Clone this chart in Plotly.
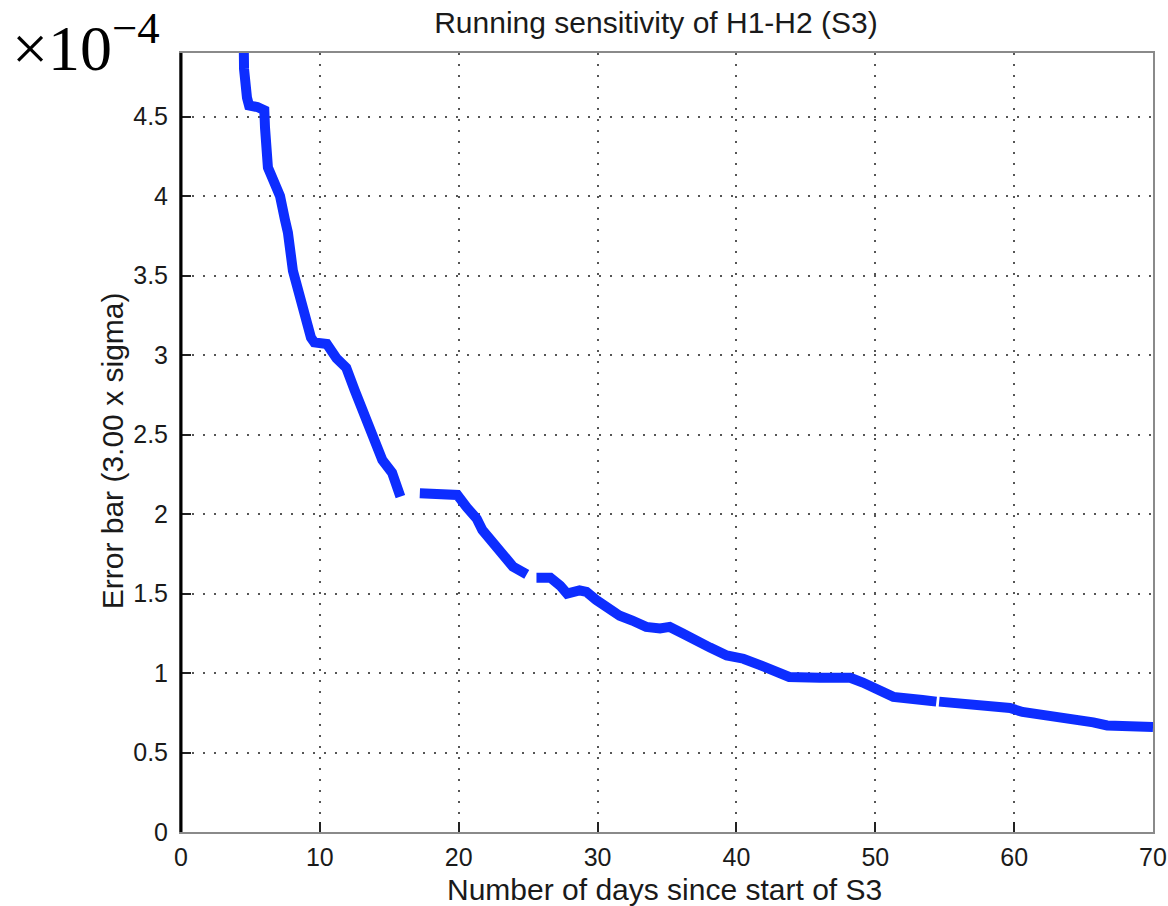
import plotly.graph_objects as go

# Running error bar (3 x sigma) vs. days since start of S3; None marks breaks in the record
days = [
    4.50, 4.54, 4.75, 4.90, 5.50, 6.00, 6.05, 6.26, 6.55, 7.13, 7.49, 7.70, 8.06,
    8.35, 8.70, 9.00, 9.36, 9.60, 10.5, 11.2, 11.9, 12.5, 13.1, 13.5, 13.9, 14.5,
    15.2, 15.6, 15.8,
    None,
    17.2, 18.5, 19.9, 20.6, 21.3, 21.7, 22.5, 23.2, 23.9, 24.9,
    None,
    25.6, 26.6, 27.3, 27.8, 28.7, 29.2, 29.9, 30.7, 31.6, 32.5, 33.5, 34.5, 35.2,
    36.1, 37.1, 38.1, 39.3, 40.5, 41.7, 42.9, 43.8, 46.0, 48.2, 49.1, 50.5, 51.3,
    53.4, 54.4,
    None,
    54.6, 56.6, 57.7, 59.7, 60.6, 62.1, 64.0, 65.7, 66.7, 70.0,
]
error_bar = [
    5.10e-4, 4.80e-4, 4.62e-4, 4.57e-4, 4.56e-4, 4.54e-4, 4.43e-4, 4.18e-4, 4.12e-4,
    4.00e-4, 3.85e-4, 3.77e-4, 3.53e-4, 3.43e-4, 3.33e-4, 3.24e-4, 3.11e-4, 3.08e-4,
    3.07e-4, 2.98e-4, 2.92e-4, 2.78e-4, 2.65e-4, 2.57e-4, 2.46e-4, 2.34e-4, 2.26e-4,
    2.15e-4, 2.11e-4,
    None,
    2.13e-4, 2.13e-4, 2.12e-4, 2.04e-4, 1.97e-4, 1.90e-4, 1.82e-4, 1.73e-4, 1.67e-4,
    1.62e-4,
    None,
    1.60e-4, 1.60e-4, 1.55e-4, 1.50e-4, 1.52e-4, 1.51e-4, 1.46e-4, 1.41e-4, 1.36e-4,
    1.33e-4, 1.29e-4, 1.28e-4, 1.29e-4, 1.25e-4, 1.20e-4, 1.16e-4, 1.11e-4, 1.09e-4,
    1.05e-4, 1.00e-4, 0.975e-4, 0.97e-4, 0.97e-4, 0.94e-4, 0.89e-4, 0.85e-4,
    0.83e-4, 0.82e-4,
    None,
    0.82e-4, 0.80e-4, 0.79e-4, 0.78e-4, 0.755e-4, 0.74e-4, 0.72e-4, 0.69e-4,
    0.67e-4, 0.66e-4,
]

x_ticks = [0, 10, 20, 30, 40, 50, 60, 70]
y_ticks = [0, 0.5e-4, 1e-4, 1.5e-4, 2e-4, 2.5e-4, 3e-4, 3.5e-4, 4e-4, 4.5e-4]
y_tick_labels = ["0", "0.5", "1", "1.5", "2", "2.5", "3", "3.5", "4", "4.5"]

SANS = "Liberation Sans, Arial, sans-serif"
SERIF = "Liberation Serif, Times New Roman, serif"

fig = go.Figure()
fig.add_trace(go.Scatter(
    x=days, y=error_bar, mode="lines",
    line=dict(color="#0d2dff", width=10),
    connectgaps=False, showlegend=False, hoverinfo="skip",
))

axis_common = dict(
    showgrid=True, gridcolor="#555555", gridwidth=2, griddash="2px,9px",
    zeroline=False, ticks="inside", ticklen=10, tickwidth=2, tickcolor="#222222",
    showline=True, linecolor="#8a8a8a", linewidth=2, mirror=True, automargin=False,
    tickfont=dict(family=SANS, size=25, color="#1a1a1a"),
)

fig.update_xaxes(range=[0, 70], tickvals=x_ticks, ticklabelstandoff=2, **axis_common)
fig.update_yaxes(range=[0, 4.9e-4], tickvals=y_ticks, ticktext=y_tick_labels,
                 ticklabelstandoff=6, **axis_common)

# black left spine over the grey frame
fig.add_shape(type="line", xref="paper", yref="paper", x0=0, x1=0, y0=0, y1=1,
              line=dict(color="#000000", width=3))

fig.update_layout(
    width=1168, height=906,
    margin=dict(l=181, r=15, t=53, b=74),
    paper_bgcolor="white", plot_bgcolor="white",
    title=dict(text="Running sensitivity of H1-H2 (S3)", x=0.5616, y=0.9757,
               xanchor="center", yanchor="middle", xref="container", yref="container",
               font=dict(family=SANS, size=30, color="#1a1a1a")),
    annotations=[
        dict(text="Number of days since start of S3", xref="paper", yref="paper",
             x=0.497, y=-0.0735, xanchor="center", yanchor="middle", showarrow=False,
             font=dict(family=SANS, size=30, color="#1a1a1a")),
        dict(text="Error bar (3.00 x sigma)", xref="paper", yref="paper",
             x=-0.071, y=0.490, xanchor="center", yanchor="middle", showarrow=False,
             textangle=-90, font=dict(family=SANS, size=30, color="#1a1a1a")),
        dict(text="×10<sup>−4</sup>", xref="paper", yref="paper",
             x=-0.176, y=0.957, xanchor="left", yanchor="bottom", showarrow=False,
             font=dict(family=SERIF, size=64, color="#000000")),
    ],
)

fig.write_html("out.html")
